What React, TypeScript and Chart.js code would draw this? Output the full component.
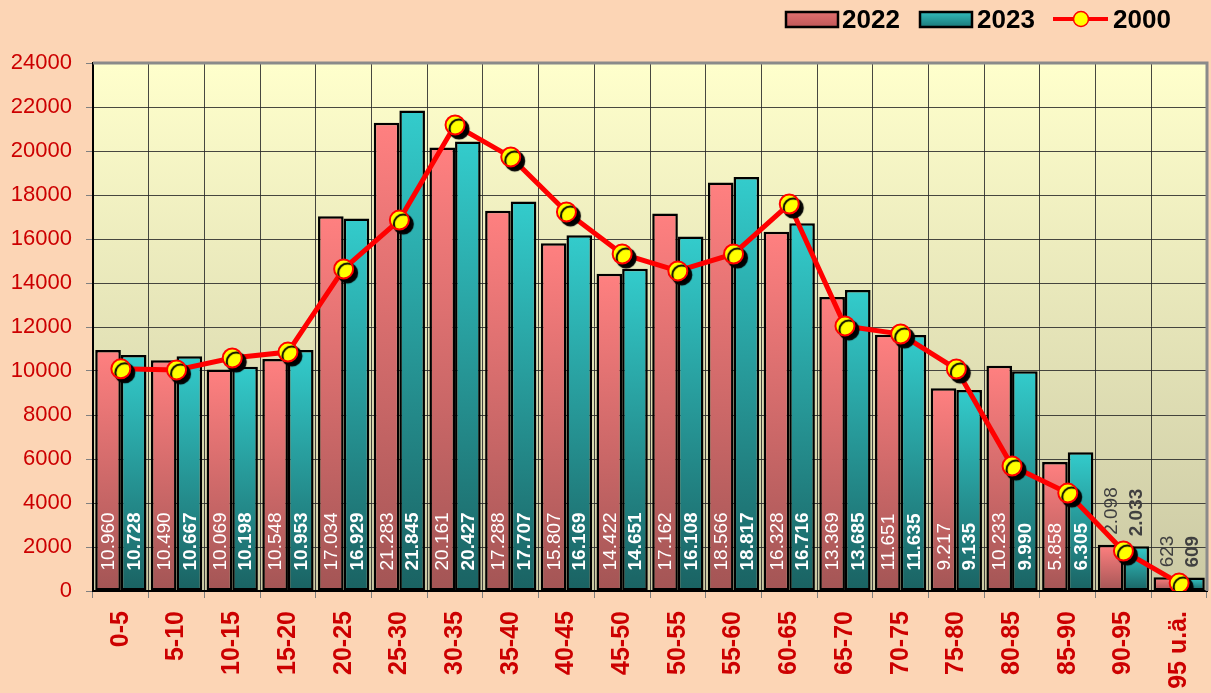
import React, { useEffect, useRef } from 'react';
import { Chart, registerables } from 'chart.js';

Chart.register(...registerables);

const categories = ['0-5', '5-10', '10-15', '15-20', '20-25', '25-30', '30-35', '35-40', '40-45', '45-50', '50-55', '55-60', '60-65', '65-70', '70-75', '75-80', '80-85', '85-90', '90-95', '95 u.ä.'];
const values2022 = [10960, 10490, 10069, 10548, 17034, 21283, 20161, 17288, 15807, 14422, 17162, 18566, 16328, 13369, 11651, 9217, 10233, 5858, 2098, 623];
const values2023 = [10728, 10667, 10198, 10953, 16929, 21845, 20427, 17707, 16169, 14651, 16108, 18817, 16716, 13685, 11635, 9135, 9990, 6305, 2033, 609];
const values2000 = [10100, 10050, 10590, 10860, 14640, 16860, 21180, 19730, 17230, 15320, 14550, 15320, 17590, 12050, 11680, 10090, 5680, 4450, 1820, 360];
const seriesLabels = ['2022', '2023', '2000'];
const yTicks = { min: 0, max: 24000, step: 2000 };

const FAMILY = '"Liberation Sans", Arial, sans-serif';
const W = 1211;
const H = 693;

const PINK_TOP = '#FF8080';
const PINK_BOTTOM = '#A35555';
const TEAL_TOP = '#33CCCC';
const TEAL_BOTTOM = '#1A6262';

function fmt(v: number): string {
  if (v < 1000) return String(v);
  const th = Math.floor(v / 1000);
  const rest = String(v % 1000).padStart(3, '0');
  return th + '.' + rest;
}

export default function App() {
  const ref = useRef<HTMLCanvasElement>(null);

  useEffect(() => {
    const canvas = ref.current!;

    const barGrad = (top: string, bottom: string) => (c: any) => {
      const chart = c.chart;
      const ys = chart.scales && chart.scales.y;
      if (!chart.chartArea || !ys || c.dataIndex === undefined || c.raw === undefined) return top;
      const yTop = ys.getPixelForValue(c.raw);
      const yBase = ys.getPixelForValue(0);
      if (!isFinite(yTop) || !isFinite(yBase) || yBase - yTop < 1) return top;
      const g = chart.ctx.createLinearGradient(0, yTop, 0, yBase);
      g.addColorStop(0, top);
      g.addColorStop(1, bottom);
      return g;
    };

    const backgroundPlugin = {
      id: 'plotBg',
      beforeDraw(chart: any) {
        const { ctx, chartArea: a } = chart;
        ctx.save();
        const g = ctx.createLinearGradient(0, a.top, 0, a.bottom);
        g.addColorStop(0, '#FFFFCC');
        g.addColorStop(1, '#CBC9A4');
        ctx.fillStyle = g;
        ctx.fillRect(a.left, a.top, a.right - a.left, a.bottom - a.top);
        ctx.restore();
      },
      beforeDatasetsDraw(chart: any) {
        const { ctx, chartArea: a } = chart;
        ctx.save();
        ctx.strokeStyle = '#8A8A8A';
        ctx.lineWidth = 3;
        ctx.beginPath();
        ctx.moveTo(a.left, a.top);
        ctx.lineTo(a.right, a.top);
        ctx.lineTo(a.right, a.bottom);
        ctx.stroke();
        ctx.restore();
      },
    };

    const labelPlugin = {
      id: 'barLabels',
      afterDatasetDraw(chart: any, args: any) {
        const idx = args.index;
        if (idx > 1) return;
        const meta = args.meta;
        const ctx = chart.ctx;
        const bold = idx === 1;
        ctx.save();
        ctx.font = `${bold ? 'bold ' : ''}19px ${FAMILY}`;
        meta.data.forEach((bar: any, i: number) => {
          const v = chart.data.datasets[idx].data[i] as number;
          const text = fmt(v);
          const tw = ctx.measureText(text).width;
          const p = bar.getProps(['x', 'y', 'base'], true);
          const h = p.base - p.y;
          let start: number;
          let color: string;
          if (h > tw + 28) {
            start = p.base - 20;
            color = '#FFFFFF';
          } else {
            start = p.y - 10;
            color = '#404040';
          }
          ctx.save();
          ctx.translate(p.x + 1, start);
          ctx.rotate(-Math.PI / 2);
          ctx.textAlign = 'left';
          ctx.textBaseline = 'middle';
          ctx.fillStyle = color;
          ctx.fillText(text, 0, 0);
          ctx.restore();
        });
        ctx.restore();
      },
    };

    const shadowPlugin = {
      id: 'pointShadow',
      beforeDatasetDraw(chart: any, args: any) {
        if (args.index !== 3) return;
        const ctx = chart.ctx;
        ctx.save();
        ctx.shadowColor = 'rgba(0,0,0,1)';
        ctx.shadowOffsetX = 4;
        ctx.shadowOffsetY = 4;
        ctx.shadowBlur = 1;
      },
      afterDatasetDraw(chart: any, args: any) {
        if (args.index !== 3) return;
        chart.ctx.restore();
      },
    };

    const legendPlugin = {
      id: 'customLegend',
      afterDraw(chart: any) {
        const ctx = chart.ctx;
        ctx.save();
        ctx.font = `bold 26px ${FAMILY}`;
        ctx.textBaseline = 'alphabetic';
        ctx.textAlign = 'left';
        const drawBox = (x: number, top: string, bottom: string) => {
          const g = ctx.createLinearGradient(0, 12, 0, 27);
          g.addColorStop(0, top);
          g.addColorStop(1, bottom);
          ctx.fillStyle = g;
          ctx.fillRect(x, 12, 52, 15);
          ctx.strokeStyle = '#000';
          ctx.lineWidth = 2.5;
          ctx.strokeRect(x, 12, 52, 15);
        };
        drawBox(786, '#E07070', '#C05858');
        ctx.fillStyle = '#000';
        ctx.fillText(chart.data.datasets[0].label, 842, 28);
        drawBox(920, '#33BBBB', '#1C7A7A');
        ctx.fillStyle = '#000';
        ctx.fillText(chart.data.datasets[1].label, 977, 28);
        ctx.strokeStyle = '#FF0000';
        ctx.lineWidth = 4;
        ctx.beginPath();
        ctx.moveTo(1053, 19);
        ctx.lineTo(1108, 19);
        ctx.stroke();
        ctx.beginPath();
        ctx.arc(1081, 19, 7.5, 0, Math.PI * 2);
        ctx.fillStyle = '#FFFF00';
        ctx.fill();
        ctx.lineWidth = 1.5;
        ctx.stroke();
        ctx.fillStyle = '#000';
        ctx.fillText(chart.data.datasets[2].label, 1113, 28);
        ctx.restore();
      },
    };

    const chart = new Chart(canvas, {
      type: 'bar',
      data: {
        labels: categories,
        datasets: [
          {
            type: 'bar',
            label: seriesLabels[0],
            data: values2022,
            backgroundColor: barGrad(PINK_TOP, PINK_BOTTOM),
            borderColor: '#000000',
            borderWidth: 2.5,
            borderSkipped: false,
            barPercentage: 1,
            categoryPercentage: 0.92,
            order: 3,
          } as any,
          {
            type: 'bar',
            label: seriesLabels[1],
            data: values2023,
            backgroundColor: barGrad(TEAL_TOP, TEAL_BOTTOM),
            borderColor: '#000000',
            borderWidth: 2.5,
            borderSkipped: false,
            barPercentage: 1,
            categoryPercentage: 0.92,
            order: 3,
          } as any,
          {
            type: 'line',
            label: seriesLabels[2],
            data: values2000,
            borderColor: '#FF0000',
            borderWidth: 5,
            pointRadius: 0,
            pointHoverRadius: 0,
            tension: 0,
            fill: false,
            order: 2,
          } as any,
          {
            type: 'line',
            label: seriesLabels[2],
            data: values2000,
            showLine: false,
            pointRadius: 9.5,
            pointHoverRadius: 9.5,
            pointBackgroundColor: '#FFFF00',
            pointBorderColor: '#FF0000',
            pointBorderWidth: 2,
            order: 1,
          } as any,
        ],
      },
      options: {
        responsive: false,
        animation: false,
        layout: { autoPadding: false, padding: { top: 63, right: 4, left: 0, bottom: 0 } },
        plugins: {
          legend: { display: false },
          tooltip: { enabled: false },
        },
        scales: {
          x: {
            offset: true,
            ticks: {
              color: '#CC0000',
              font: { size: 25, weight: 'bold', family: FAMILY },
              minRotation: 90,
              maxRotation: 90,
              autoSkip: false,
              padding: 13,
            },
            grid: { color: 'rgba(40,40,40,0.85)', offset: true, tickLength: 7, tickColor: '#808080', lineWidth: 1 },
            border: { color: '#000000', width: 2 },
            afterFit: (s: any) => { s.height = 102; s.paddingRight = 0; s.paddingLeft = 0; },
          },
          y: {
            min: yTicks.min,
            max: yTicks.max,
            ticks: {
              stepSize: yTicks.step,
              color: '#CC0000',
              font: { size: 22, family: FAMILY },
              padding: 14,
              callback: (v: any) => String(v),
            },
            grid: { color: 'rgba(40,40,40,0.85)', tickLength: 7, tickColor: '#808080', lineWidth: 1 },
            border: { color: '#000000', width: 2 },
            afterFit: (s: any) => { s.width = 93; },
          },
        },
      } as any,
      plugins: [backgroundPlugin, labelPlugin, shadowPlugin, legendPlugin],
    });

    return () => chart.destroy();
  }, []);

  return (
    <div style={{ position: 'fixed', left: 0, top: 0, width: W, height: H, background: '#FCD5B5' }}>
      <canvas ref={ref} width={W} height={H} style={{ width: W, height: H, display: 'block' }} />
    </div>
  );
}
